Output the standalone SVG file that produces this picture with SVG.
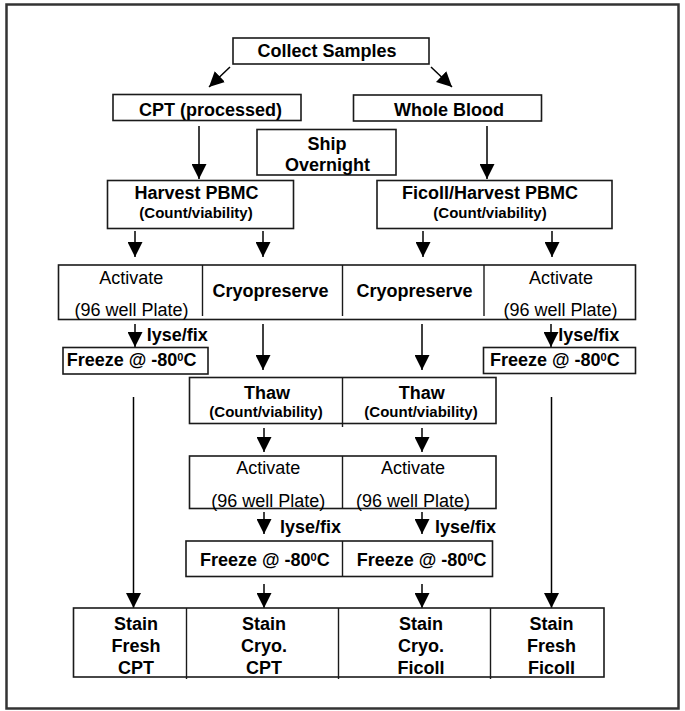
<svg xmlns="http://www.w3.org/2000/svg" width="685" height="711" viewBox="0 0 685 711">
<style>
  .frame { fill: #ffffff; stroke: #333333; stroke-width: 2.5; }
  .box { fill: #ffffff; stroke: #1a1a1a; stroke-width: 1.6; }
  .div { stroke: #1a1a1a; stroke-width: 1.4; fill: none; }
  .conn { stroke: #000000; stroke-width: 1.5; fill: none; marker-end: url(#arr); }
  .plain { stroke: #000000; stroke-width: 1.5; fill: none; }
  text { font-family: "Liberation Sans", Arial, Helvetica, sans-serif; fill: #000000; }
  .b { font-size: 18px; font-weight: bold; text-anchor: middle; }
  .bl { font-size: 18px; font-weight: bold; }
  .r { font-size: 18px; text-anchor: middle; }
  .s { font-size: 15px; font-weight: bold; text-anchor: middle; }
</style>
<defs>
  <marker id="arr" markerUnits="userSpaceOnUse" markerWidth="15" markerHeight="15" viewBox="0 0 15 15" refX="15" refY="7.5" orient="auto">
    <path d="M0,0 L15,7.5 L0,15 Z" fill="#000000"/>
  </marker>
</defs>
<rect class="frame" x="6.5" y="4.5" width="672" height="704"/>

<g id="connectors">
  <line class="conn" x1="230" y1="67" x2="209" y2="87"/>
  <line class="conn" x1="431" y1="67" x2="452" y2="87"/>
  <line class="conn" x1="199" y1="126" x2="199" y2="179"/>
  <line class="conn" x1="487" y1="126" x2="487" y2="179"/>
  <line class="conn" x1="135" y1="231" x2="135" y2="257"/>
  <line class="conn" x1="263" y1="231" x2="263" y2="257"/>
  <line class="conn" x1="423" y1="231" x2="423" y2="257"/>
  <line class="conn" x1="552" y1="231" x2="552" y2="257"/>
  <line class="conn" x1="135" y1="324" x2="135" y2="347"/>
  <line class="conn" x1="263" y1="324" x2="263" y2="370"/>
  <line class="conn" x1="422" y1="324" x2="422" y2="370"/>
  <line class="conn" x1="551" y1="324" x2="551" y2="347"/>
  <line class="conn" x1="133.5" y1="397" x2="133.5" y2="608"/>
  <line class="conn" x1="551.5" y1="397" x2="551.5" y2="608"/>
  <line class="conn" x1="264" y1="428" x2="264" y2="452"/>
  <line class="conn" x1="422" y1="428" x2="422" y2="452"/>
  <line class="conn" x1="264" y1="512" x2="264" y2="534"/>
  <line class="conn" x1="422" y1="512" x2="422" y2="534"/>
  <line class="conn" x1="264" y1="584" x2="264" y2="608"/>
  <line class="conn" x1="422" y1="584" x2="422" y2="608"/>
</g>

<g id="collect">
  <rect class="box" x="233" y="38" width="196" height="26"/>
  <text class="b" x="327" y="57">Collect Samples</text>
</g>
<g id="cpt">
  <rect class="box" x="113" y="94.5" width="188" height="26"/>
  <text class="b" x="210.5" y="116">CPT (processed)</text>
</g>
<g id="wholeblood">
  <rect class="box" x="353.5" y="95" width="188" height="26"/>
  <text class="b" x="449" y="116">Whole Blood</text>
</g>
<g id="ship">
  <rect class="box" x="257" y="129.5" width="139" height="45.5"/>
  <text class="b" x="327" y="150">Ship</text>
  <text class="b" x="327.5" y="171">Overnight</text>
</g>
<g id="harvest">
  <rect class="box" x="107.5" y="180.5" width="186" height="48"/>
  <text class="b" x="196.5" y="199">Harvest PBMC</text>
  <text class="s" x="196" y="218">(Count/viability)</text>
</g>
<g id="ficoll">
  <rect class="box" x="377" y="180.5" width="235" height="48"/>
  <text class="b" x="490" y="199">Ficoll/Harvest PBMC</text>
  <text class="s" x="490" y="218">(Count/viability)</text>
</g>

<g id="row1">
  <rect class="box" x="58.5" y="265" width="577" height="54.5"/>
  <line class="div" x1="202.5" y1="265" x2="202.5" y2="316"/>
  <line class="div" x1="342.5" y1="265" x2="342.5" y2="316"/>
  <line class="div" x1="484" y1="265" x2="484" y2="316"/>
  <text class="r" x="131.3" y="283.5">Activate</text>
  <text class="r" x="131.5" y="315.5">(96 well Plate)</text>
  <text class="b" x="270.5" y="297">Cryopreserve</text>
  <text class="b" x="414.5" y="297">Cryopreserve</text>
  <text class="r" x="561" y="283.5">Activate</text>
  <text class="r" x="560.5" y="315.5">(96 well Plate)</text>
</g>

<g id="lyse1">
  <text class="bl" x="146.7" y="341">lyse/fix</text>
  <text class="bl" x="558.3" y="341">lyse/fix</text>
</g>

<g id="freezeL">
  <rect class="box" x="63" y="347.5" width="145" height="26.5"/>
  <text class="bl" x="66.7" y="366">Freeze @ -80<tspan font-size="11" dy="-5">0</tspan><tspan dy="5">C</tspan></text>
</g>
<g id="freezeR">
  <rect class="box" x="483.5" y="347.5" width="152" height="26"/>
  <text class="bl" x="490" y="366">Freeze @ -80<tspan font-size="11" dy="-5">0</tspan><tspan dy="5">C</tspan></text>
</g>

<g id="thaw">
  <rect class="box" x="189.5" y="377.5" width="306.5" height="46"/>
  <line class="div" x1="342.5" y1="377.5" x2="342.5" y2="427"/>
  <text class="b" x="267" y="398.5">Thaw</text>
  <text class="s" x="266" y="417">(Count/viability)</text>
  <text class="b" x="421.7" y="398.5">Thaw</text>
  <text class="s" x="421" y="417">(Count/viability)</text>
</g>

<g id="activate2">
  <rect class="box" x="189.5" y="456" width="306.5" height="52.5"/>
  <line class="div" x1="342.5" y1="456" x2="342.5" y2="508"/>
  <text class="r" x="268.3" y="473.5">Activate</text>
  <text class="r" x="268.3" y="506.5">(96 well Plate)</text>
  <text class="r" x="413" y="473.5">Activate</text>
  <text class="r" x="413" y="506.5">(96 well Plate)</text>
</g>

<g id="lyse2">
  <text class="bl" x="280" y="533">lyse/fix</text>
  <text class="bl" x="435" y="533">lyse/fix</text>
</g>

<g id="freeze2">
  <rect class="box" x="186" y="541" width="306.5" height="35.5"/>
  <line class="div" x1="342.5" y1="541" x2="342.5" y2="576.5"/>
  <text class="bl" x="200" y="566">Freeze @ -80<tspan font-size="11" dy="-5">0</tspan><tspan dy="5">C</tspan></text>
  <text class="bl" x="356.7" y="566">Freeze @ -80<tspan font-size="11" dy="-5">0</tspan><tspan dy="5">C</tspan></text>
</g>

<g id="stain">
  <rect class="box" x="73.5" y="608" width="530.5" height="69"/>
  <line class="div" x1="186.5" y1="608" x2="186.5" y2="679"/>
  <line class="div" x1="338.5" y1="608" x2="338.5" y2="679"/>
  <line class="div" x1="490.5" y1="608" x2="490.5" y2="679"/>
  <text class="b" x="136" y="630">Stain</text>
  <text class="b" x="136" y="652">Fresh</text>
  <text class="b" x="136" y="674">CPT</text>
  <text class="b" x="264" y="630">Stain</text>
  <text class="b" x="264" y="652">Cryo.</text>
  <text class="b" x="264" y="674">CPT</text>
  <text class="b" x="421" y="630">Stain</text>
  <text class="b" x="421" y="652">Cryo.</text>
  <text class="b" x="421" y="674">Ficoll</text>
  <text class="b" x="551.5" y="630">Stain</text>
  <text class="b" x="551.5" y="652">Fresh</text>
  <text class="b" x="551.5" y="674">Ficoll</text>
</g>
</svg>
